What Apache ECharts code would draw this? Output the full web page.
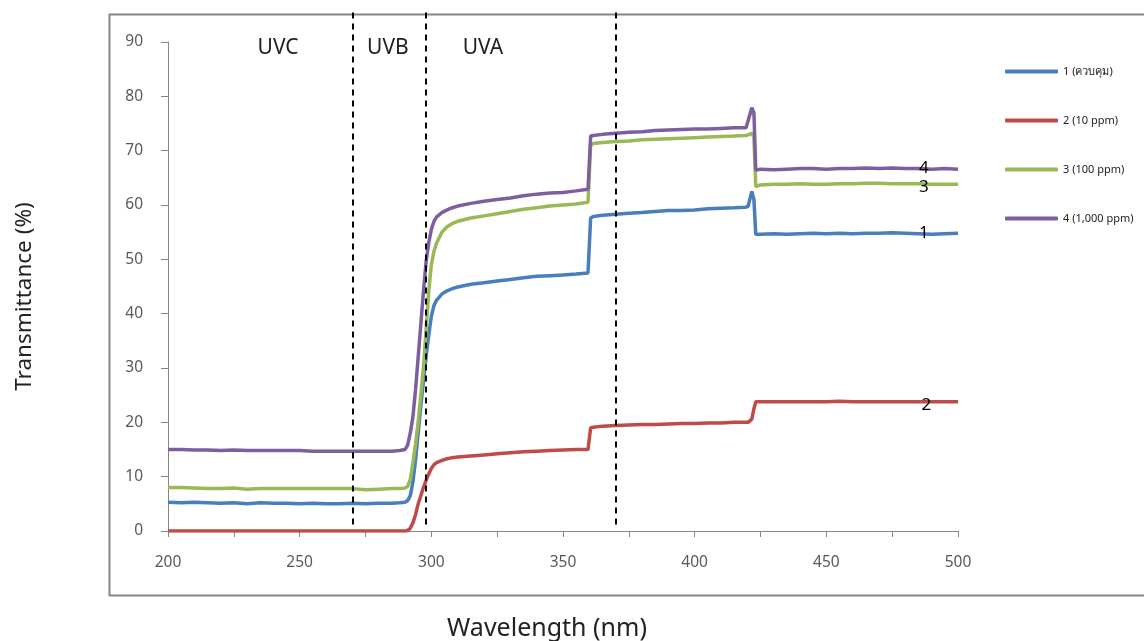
<!DOCTYPE html>
<html><head><meta charset="utf-8">
<script src="https://cdn.jsdelivr.net/npm/echarts@6/dist/echarts.min.js"></script>
<style>html,body{margin:0;padding:0;background:#fff}#c{width:1144px;height:641px}</style>
</head><body><div id="c"></div><script>
const wavelengths = [200,205,210,215,220,225,230,235,240,245,250,255,260,265,270,275,280,285,288,290,291,292,293,294,295,296,297,298,299,300,301,302,304,306,308,310,315,320,325,330,335,340,345,350,355,359.5,360.5,361.5,365,370,375,380,385,390,395,400,405,410,415,419.5,420.3,421.7,422.5,423.2,425,430,435,440,445,450,455,460,465,470,475,480,485,490,495,500];
const s1 = [5.3,5.2,5.3,5.2,5.1,5.2,5.0,5.2,5.1,5.1,5.0,5.1,5.0,5.0,5.1,5.0,5.1,5.1,5.2,5.3,5.6,6.5,9.0,13.0,18.0,23.0,27.5,32.0,36.0,39.5,41.5,42.5,43.6,44.2,44.6,44.9,45.4,45.7,46.0,46.3,46.6,46.9,47.0,47.1,47.3,47.5,57.6,57.9,58.1,58.3,58.5,58.6,58.8,59.0,59.0,59.1,59.3,59.4,59.5,59.6,59.8,62.5,61.0,54.6,54.6,54.7,54.6,54.7,54.8,54.7,54.8,54.7,54.8,54.8,54.9,54.8,54.7,54.6,54.7,54.8];
const s2 = [0,0,0,0,0,0,0,0,0,0,0,0,0,0,0,0,0,0,0,0,0.1,0.5,1.5,3.0,5.0,6.5,8.0,9.3,10.5,11.5,12.2,12.6,13.0,13.3,13.5,13.6,13.8,14.0,14.2,14.4,14.6,14.7,14.8,14.9,15.0,15.0,19.0,19.1,19.3,19.4,19.5,19.6,19.6,19.7,19.8,19.8,19.9,19.9,20.0,20.0,20.0,20.6,22.5,23.8,23.8,23.8,23.8,23.8,23.8,23.8,23.9,23.8,23.8,23.8,23.8,23.8,23.8,23.8,23.8,23.8];
const s3 = [8.0,8.0,7.9,7.8,7.8,7.9,7.7,7.8,7.8,7.8,7.8,7.8,7.8,7.8,7.8,7.6,7.7,7.8,7.8,7.9,8.2,9.5,12.5,16.0,20.0,25.0,30.0,37.0,44.0,49.0,51.5,53.0,55.0,56.0,56.6,57.0,57.6,58.0,58.4,58.8,59.2,59.5,59.8,60.0,60.2,60.5,71.0,71.3,71.5,71.7,71.8,72.0,72.1,72.2,72.3,72.4,72.5,72.6,72.7,72.8,72.9,73.2,72.5,63.4,63.7,63.8,63.8,63.9,63.8,63.8,63.9,63.9,64.0,64.0,63.9,63.9,63.9,63.8,63.8,63.8];
const s4 = [15.0,15.0,14.9,14.9,14.8,14.9,14.8,14.8,14.8,14.8,14.8,14.7,14.7,14.7,14.7,14.7,14.7,14.7,14.8,15.0,15.8,18.0,21.0,26.0,32.0,38.0,44.0,49.5,53.0,55.5,57.0,57.8,58.6,59.1,59.5,59.8,60.3,60.7,61.0,61.3,61.7,62.0,62.2,62.3,62.6,62.9,72.7,72.8,73.0,73.2,73.4,73.5,73.7,73.8,73.9,74.0,74.0,74.1,74.2,74.2,75.5,77.9,77.0,66.4,66.6,66.5,66.6,66.7,66.7,66.6,66.7,66.7,66.8,66.7,66.8,66.7,66.7,66.6,66.7,66.6];
const seriesNames = ['1 (ควบคุม)','2 (10 ppm)','3 (100 ppm)','4 (1,000 ppm)'];
const seriesColors = ['#4a7ebb','#be4b48','#98b954','#7d5fa0'];
const endLabels = ['1','2','3','4'];
const endLabelPos = [[487,54.8],[488,23.2],[487,63.3],[487,66.8]];
const bandLines = [270,298,370];
const bandNames = ['UVC','UVB','UVA'];
const bandNamePos = [[241.8,88.8],[283.5,88.8],[319.6,88.8]];
const xTicks = {min:200,max:500,interval:25};
const yTicks = {min:0,max:90,interval:10};

const font = "'Noto Sans', 'DejaVu Sans', sans-serif";
const allSeries = [s1,s2,s3,s4];
const chart = echarts.init(document.getElementById('c'), null, {renderer:'canvas'});
const series = allSeries.map((vals, i) => ({
  name: seriesNames[i], type:'line', xAxisIndex:0, yAxisIndex:0,
  data: wavelengths.map((w, k) => [w, vals[k]]),
  showSymbol:false, symbol:'none', smooth:false,
  lineStyle:{width:3.5, color:seriesColors[i]}, itemStyle:{color:seriesColors[i]},
  z: 3,
  markPoint:{silent:true, symbol:'circle', symbolSize:1, itemStyle:{color:'rgba(0,0,0,0)'},
    label:{show:true, position:'inside', formatter:endLabels[i], color:'#000', fontSize:17, fontFamily:font},
    data:[{coord:endLabelPos[i]}]}
}));
series.push({
  type:'line', xAxisIndex:1, yAxisIndex:1, data:[], silent:true, z:5,
  markLine:{silent:true, symbol:['none','none'], animation:false,
    lineStyle:{color:'#000', type:[6,5], width:2}, label:{show:false},
    data: bandLines.map(x => [{coord:[x,1.2]},{coord:[x,95.5]}])},
  markPoint:{silent:true, symbol:'circle', symbolSize:1, itemStyle:{color:'rgba(0,0,0,0)'},
    label:{show:true, position:'inside', color:'#222', fontSize:21, fontFamily:font, formatter:p=>p.name},
    data: bandNames.map((n,i)=>({name:n, coord:bandNamePos[i]}))}
});
chart.setOption({
  animation:false,
  backgroundColor:'#fff',
  textStyle:{fontFamily:font},
  graphic:[{type:'rect', left:107, top:12, shape:{width:1100, height:581}, style:{fill:'none', stroke:'#868686', lineWidth:2}, silent:true}],
  legend:{orient:'vertical', left:1000, top:61, itemGap:38, itemWidth:53, itemHeight:4, icon:'roundRect',
    textStyle:{fontSize:11, color:'#222', fontFamily:font}, data:seriesNames},
  grid:[{left:168, right:186, top:42, bottom:110, containLabel:false, outerBoundsMode:'none'},
        {left:168, right:186, top:12, bottom:110, containLabel:false, outerBoundsMode:'none'}],
  xAxis:[{type:'value', gridIndex:0, min:xTicks.min, max:xTicks.max, interval:xTicks.interval,
      axisLine:{show:true, lineStyle:{color:'#868686', width:1}},
      axisTick:{show:true, length:6, lineStyle:{color:'#868686'}},
      axisLabel:{margin:24, fontSize:15.5, color:'#595959', formatter:v=> v%50===0 ? String(v) : ''},
      splitLine:{show:false},
      name:'Wavelength (nm)', nameLocation:'middle', nameGap:85,
      nameTextStyle:{fontSize:25, color:'#222', padding:[0,32,0,0]}},
    {type:'value', gridIndex:1, min:xTicks.min, max:xTicks.max, show:false}],
  yAxis:[{type:'value', gridIndex:0, min:yTicks.min, max:yTicks.max, interval:yTicks.interval,
      axisLine:{show:true, lineStyle:{color:'#868686', width:1}},
      axisTick:{show:true, length:7, lineStyle:{color:'#868686'}},
      axisLabel:{margin:25, fontSize:15.5, color:'#595959'},
      splitLine:{show:false},
      name:'Transmittance (%)', nameLocation:'middle', nameGap:132,
      nameTextStyle:{fontSize:22.5, color:'#222', padding:[0,20,0,0]}},
    {type:'value', gridIndex:1, min:0, max:95.5, show:false}],
  series: series
});
</script></body></html>
